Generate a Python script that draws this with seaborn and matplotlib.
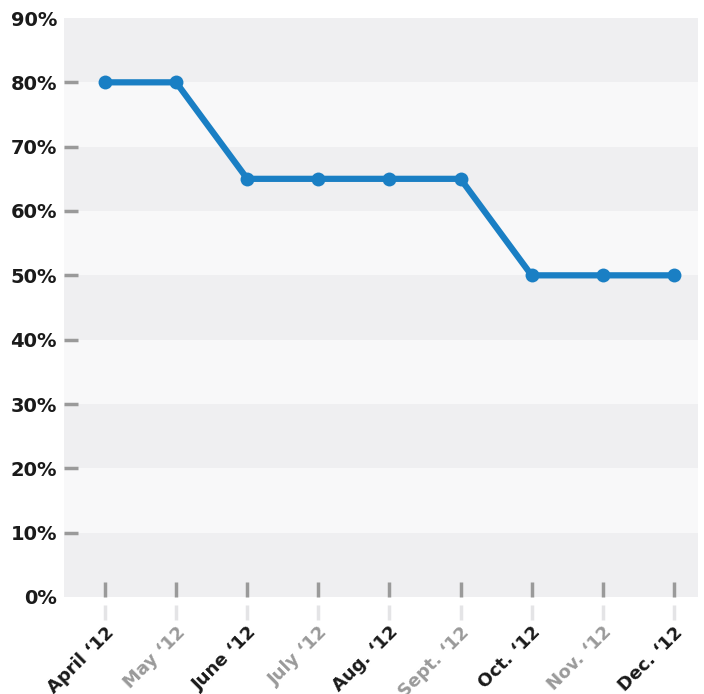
import matplotlib
matplotlib.use("Agg")
import matplotlib.pyplot as plt
import seaborn as sns
import pandas as pd
import numpy as np

months = ["April \u201812", "May \u201812", "June \u201812", "July \u201812", "Aug. \u201812",
          "Sept. \u201812", "Oct. \u201812", "Nov. \u201812", "Dec. \u201812"]
values = [80, 80, 65, 65, 65, 65, 50, 50, 50]
yticks = [0, 10, 20, 30, 40, 50, 60, 70, 80, 90]

sns.set_theme(style="white")
plt.rcParams['font.family'] = ['DejaVu Sans']

df = pd.DataFrame({"pos": np.arange(len(months)), "value": values})

fig = plt.figure(figsize=(7.04, 6.94), dpi=100)
ax = fig.add_axes([64/704, 1-597/694, (698-64)/704, (597-18)/694])

dark_band = "#efeff1"
light_band = "#f8f8f9"
for i in range(len(yticks) - 1):
    ax.axhspan(yticks[i], yticks[i+1], color=dark_band if i % 2 == 0 else light_band, zorder=0, lw=0)

sns.lineplot(data=df, x="pos", y="value", ax=ax, color="#1a7fc4", linewidth=4.5,
             marker="o", markersize=10, markeredgewidth=0, zorder=5)

ax.set_xlim(-0.577, 8.34)
ax.set_ylim(0, 90)
for s in ax.spines.values():
    s.set_visible(False)
ax.set_xlabel("")
ax.set_ylabel("")

ax.set_yticks(yticks)
ax.set_yticklabels([f"{v}%" for v in yticks], fontsize=14, fontweight="bold", color="#1a1a1a")
ax.tick_params(axis="y", direction="in", length=10, width=2.5, color="#9a9a9a", pad=5, left=True)
yt = ax.yaxis.get_major_ticks()
yt[0].tick1line.set_visible(False)
yt[-1].tick1line.set_visible(False)

ax.set_xticks(df["pos"])
ax.set_xticklabels([])
ax.tick_params(axis="x", direction="in", length=11, width=2.5, color="#9a9a9a", bottom=True)

sec = ax.secondary_xaxis(-8/579)
sec.spines["bottom"].set_visible(False)
sec.set_xticks(df["pos"])
sec.set_xticklabels(months, rotation=45, ha="right", rotation_mode="anchor",
                    fontsize=13, fontweight="bold")
sec.tick_params(axis="x", direction="out", length=11, width=2.5, color="#e4e4e6", pad=2)
for i, lab in enumerate(sec.get_xticklabels()):
    lab.set_color("#1a1a1a" if i % 2 == 0 else "#9a9a9a")

fig.savefig("out.png", dpi=100, facecolor="white")
